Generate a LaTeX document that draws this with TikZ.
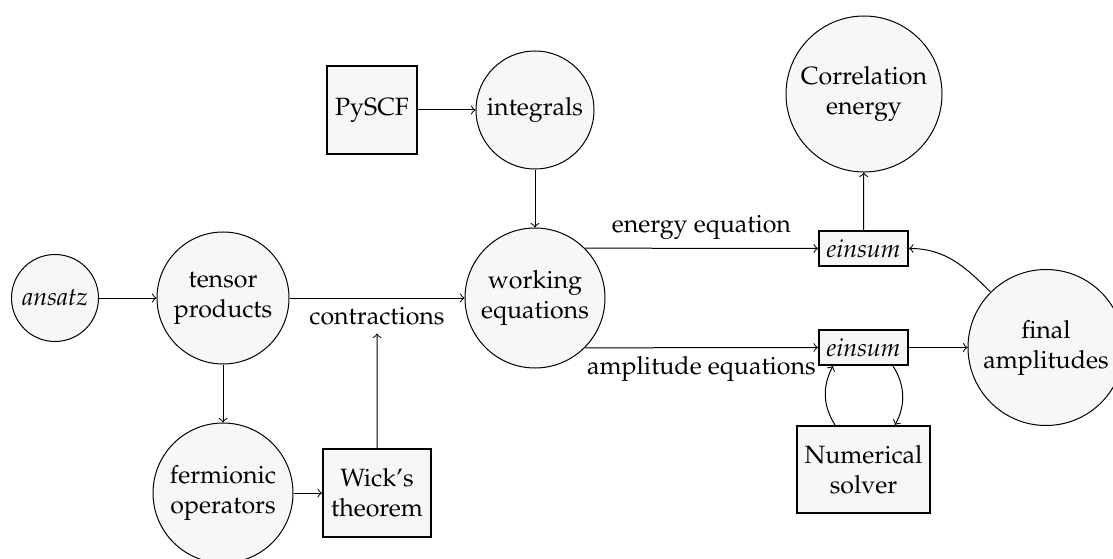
\documentclass[tikz,border=0pt]{standalone}
\usepackage[T1]{fontenc}
\usepackage{mathpazo}
\begin{document}
\begin{tikzpicture}[x=0.4pt,y=0.4pt,
  circ/.style={circle,draw,fill=black!3,inner sep=1pt,align=center},
  sq/.style={rectangle,draw,thick,fill=black!3,inner sep=1pt,align=center}]
\useasboundingbox (0,0) rectangle (1113,-559);
\clip (0,0) rectangle (1113,-559);
\node[circ,minimum size=34.8pt] (an) at (55,-298) {\itshape ansatz};
\node[circ,minimum size=52.8pt] (tp) at (223,-298) {tensor\\products};
\node[circ,minimum size=56pt] (fo) at (223,-493) {fermionic\\operators};
\node[sq,minimum width=43.2pt,minimum height=35.2pt] (wt) at (377,-493) {Wick's\\theorem};
\node[sq,minimum width=36pt,minimum height=35.2pt] (py) at (372,-110) {PySCF};
\node[circ,minimum size=47.2pt] (in) at (535,-110) {integrals};
\node[circ,minimum size=56pt] (we) at (535,-298) {working\\equations};
\node[circ,minimum size=62.4pt] (ce) at (864,-94) {Correlation\\energy};
\node[sq,minimum width=35.6pt,minimum height=14pt] (e1) at (863.5,-248.5) {\itshape einsum};
\node[sq,minimum width=35.6pt,minimum height=14pt] (e2) at (863.5,-347.5) {\itshape einsum};
\node[circ,minimum size=62.4pt] (fa) at (1046,-347.5) {final\\amplitudes};
\node[sq,minimum width=53.2pt,minimum height=34.8pt] (ns) at (863.5,-469.5) {Numerical\\solver};

\draw[->] (an) -- (tp);
\draw[->] (tp) -- node[below] (ct) {contractions} (we);
\draw[->] (tp) -- (fo);
\draw[->] (fo) -- (wt);
\draw[->] (wt) -- (ct);
\draw[->] (py) -- (in);
\draw[->] (in) -- (we);
\draw[->] (we.45) -- node[above] {energy equation} (e1.west);
\draw[->] (we.-45) -- node[below] {amplitude equations} (e2.west);
\draw[->] (e1) -- (ce);
\draw[->] (e2) -- (fa);
\draw[->] (fa.135) to[out=135,in=0] (e1.east);
\draw[->] ([xshift=-11.4pt]ns.north) to[bend left=30] ([xshift=-12.2pt]e2.south);
\draw[->] ([xshift=11.8pt]e2.south) to[bend left=30] ([xshift=12.6pt]ns.north);
\end{tikzpicture}
\end{document}
